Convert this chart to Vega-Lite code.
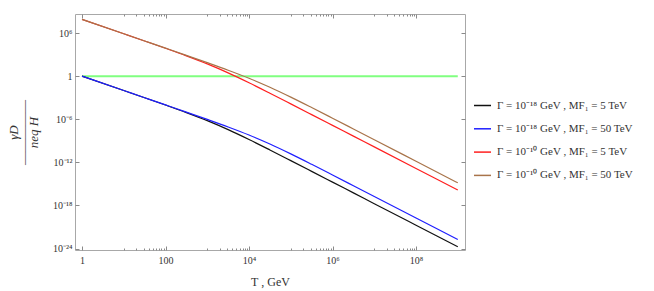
{
  "$schema": "https://vega.github.io/schema/vega-lite/v6.json",
  "width": 390,
  "height": 236,
  "autosize": "none",
  "padding": {"left": 75, "top": 14, "right": 189, "bottom": 41},
  "background": "white",
  "config": {
    "font": "Liberation Serif",
    "view": {"stroke": "#a8a8a8", "strokeWidth": 1},
    "axis": {
      "domain": false,
      "grid": false,
      "tickColor": "#8a8a8a",
      "tickWidth": 1,
      "labelFont": "Liberation Serif",
      "labelFontSize": 10,
      "labelColor": "#333333",
      "titleFont": "Liberation Serif",
      "titleFontWeight": "normal",
      "titleColor": "#333333"
    },
    "legend": {
      "labelFont": "Liberation Serif",
      "labelFontSize": 11,
      "labelColor": "#333333",
      "padding": 0,
      "labelLimit": 200
    }
  },
  "datasets": {
    "unity": [
      {"T": 1, "y": 1},
      {"T": 1000000000, "y": 1}
    ],
    "curves": [
      {"T": 1, "y": 1, "series": "Γ = 10⁻¹⁸  GeV ,  MF₁ = 5  TeV"},
      {"T": 10, "y": 9.944e-3, "series": "Γ = 10⁻¹⁸  GeV ,  MF₁ = 5  TeV"},
      {"T": 31.62, "y": 9.825e-4, "series": "Γ = 10⁻¹⁸  GeV ,  MF₁ = 5  TeV"},
      {"T": 100, "y": 9.468e-5, "series": "Γ = 10⁻¹⁸  GeV ,  MF₁ = 5  TeV"},
      {"T": 316.2, "y": 8.490e-6, "series": "Γ = 10⁻¹⁸  GeV ,  MF₁ = 5  TeV"},
      {"T": 1000, "y": 6.401e-7, "series": "Γ = 10⁻¹⁸  GeV ,  MF₁ = 5  TeV"},
      {"T": 3162, "y": 3.599e-8, "series": "Γ = 10⁻¹⁸  GeV ,  MF₁ = 5  TeV"},
      {"T": 10000, "y": 1.510e-9, "series": "Γ = 10⁻¹⁸  GeV ,  MF₁ = 5  TeV"},
      {"T": 31623, "y": 5.323e-11, "series": "Γ = 10⁻¹⁸  GeV ,  MF₁ = 5  TeV"},
      {"T": 100000, "y": 1.747e-12, "series": "Γ = 10⁻¹⁸  GeV ,  MF₁ = 5  TeV"},
      {"T": 316228, "y": 5.591e-14, "series": "Γ = 10⁻¹⁸  GeV ,  MF₁ = 5  TeV"},
      {"T": 1000000, "y": 1.776e-15, "series": "Γ = 10⁻¹⁸  GeV ,  MF₁ = 5  TeV"},
      {"T": 3162278, "y": 5.620e-17, "series": "Γ = 10⁻¹⁸  GeV ,  MF₁ = 5  TeV"},
      {"T": 10000000, "y": 1.778e-18, "series": "Γ = 10⁻¹⁸  GeV ,  MF₁ = 5  TeV"},
      {"T": 100000000, "y": 1.778e-21, "series": "Γ = 10⁻¹⁸  GeV ,  MF₁ = 5  TeV"},
      {"T": 1000000000, "y": 1.778e-24, "series": "Γ = 10⁻¹⁸  GeV ,  MF₁ = 5  TeV"},

      {"T": 1, "y": 1, "series": "Γ = 10⁻¹⁸  GeV ,  MF₁ = 50  TeV"},
      {"T": 10, "y": 9.994e-3, "series": "Γ = 10⁻¹⁸  GeV ,  MF₁ = 50  TeV"},
      {"T": 31.62, "y": 9.982e-4, "series": "Γ = 10⁻¹⁸  GeV ,  MF₁ = 50  TeV"},
      {"T": 100, "y": 9.944e-5, "series": "Γ = 10⁻¹⁸  GeV ,  MF₁ = 50  TeV"},
      {"T": 316.2, "y": 9.825e-6, "series": "Γ = 10⁻¹⁸  GeV ,  MF₁ = 50  TeV"},
      {"T": 1000, "y": 9.468e-7, "series": "Γ = 10⁻¹⁸  GeV ,  MF₁ = 50  TeV"},
      {"T": 3162, "y": 8.490e-8, "series": "Γ = 10⁻¹⁸  GeV ,  MF₁ = 50  TeV"},
      {"T": 10000, "y": 6.401e-9, "series": "Γ = 10⁻¹⁸  GeV ,  MF₁ = 50  TeV"},
      {"T": 31623, "y": 3.599e-10, "series": "Γ = 10⁻¹⁸  GeV ,  MF₁ = 50  TeV"},
      {"T": 100000, "y": 1.510e-11, "series": "Γ = 10⁻¹⁸  GeV ,  MF₁ = 50  TeV"},
      {"T": 316228, "y": 5.323e-13, "series": "Γ = 10⁻¹⁸  GeV ,  MF₁ = 50  TeV"},
      {"T": 1000000, "y": 1.747e-14, "series": "Γ = 10⁻¹⁸  GeV ,  MF₁ = 50  TeV"},
      {"T": 3162278, "y": 5.591e-16, "series": "Γ = 10⁻¹⁸  GeV ,  MF₁ = 50  TeV"},
      {"T": 10000000, "y": 1.776e-17, "series": "Γ = 10⁻¹⁸  GeV ,  MF₁ = 50  TeV"},
      {"T": 100000000, "y": 1.778e-20, "series": "Γ = 10⁻¹⁸  GeV ,  MF₁ = 50  TeV"},
      {"T": 1000000000, "y": 1.778e-23, "series": "Γ = 10⁻¹⁸  GeV ,  MF₁ = 50  TeV"},

      {"T": 1, "y": 7.940e7, "series": "Γ = 10⁻¹⁰  GeV ,  MF₁ = 5  TeV"},
      {"T": 10, "y": 7.899e5, "series": "Γ = 10⁻¹⁰  GeV ,  MF₁ = 5  TeV"},
      {"T": 31.62, "y": 7.804e4, "series": "Γ = 10⁻¹⁰  GeV ,  MF₁ = 5  TeV"},
      {"T": 100, "y": 7521, "series": "Γ = 10⁻¹⁰  GeV ,  MF₁ = 5  TeV"},
      {"T": 316.2, "y": 674.4, "series": "Γ = 10⁻¹⁰  GeV ,  MF₁ = 5  TeV"},
      {"T": 1000, "y": 50.85, "series": "Γ = 10⁻¹⁰  GeV ,  MF₁ = 5  TeV"},
      {"T": 3162, "y": 2.859, "series": "Γ = 10⁻¹⁰  GeV ,  MF₁ = 5  TeV"},
      {"T": 10000, "y": 0.1199, "series": "Γ = 10⁻¹⁰  GeV ,  MF₁ = 5  TeV"},
      {"T": 31623, "y": 4.228e-3, "series": "Γ = 10⁻¹⁰  GeV ,  MF₁ = 5  TeV"},
      {"T": 100000, "y": 1.388e-4, "series": "Γ = 10⁻¹⁰  GeV ,  MF₁ = 5  TeV"},
      {"T": 316228, "y": 4.441e-6, "series": "Γ = 10⁻¹⁰  GeV ,  MF₁ = 5  TeV"},
      {"T": 1000000, "y": 1.411e-7, "series": "Γ = 10⁻¹⁰  GeV ,  MF₁ = 5  TeV"},
      {"T": 3162278, "y": 4.464e-9, "series": "Γ = 10⁻¹⁰  GeV ,  MF₁ = 5  TeV"},
      {"T": 10000000, "y": 1.412e-10, "series": "Γ = 10⁻¹⁰  GeV ,  MF₁ = 5  TeV"},
      {"T": 100000000, "y": 1.413e-13, "series": "Γ = 10⁻¹⁰  GeV ,  MF₁ = 5  TeV"},
      {"T": 1000000000, "y": 1.413e-16, "series": "Γ = 10⁻¹⁰  GeV ,  MF₁ = 5  TeV"},

      {"T": 1, "y": 7.943e7, "series": "Γ = 10⁻¹⁰  GeV ,  MF₁ = 50  TeV"},
      {"T": 10, "y": 7.939e5, "series": "Γ = 10⁻¹⁰  GeV ,  MF₁ = 50  TeV"},
      {"T": 31.62, "y": 7.929e4, "series": "Γ = 10⁻¹⁰  GeV ,  MF₁ = 50  TeV"},
      {"T": 100, "y": 7899, "series": "Γ = 10⁻¹⁰  GeV ,  MF₁ = 50  TeV"},
      {"T": 316.2, "y": 780.4, "series": "Γ = 10⁻¹⁰  GeV ,  MF₁ = 50  TeV"},
      {"T": 1000, "y": 75.21, "series": "Γ = 10⁻¹⁰  GeV ,  MF₁ = 50  TeV"},
      {"T": 3162, "y": 6.744, "series": "Γ = 10⁻¹⁰  GeV ,  MF₁ = 50  TeV"},
      {"T": 10000, "y": 0.5085, "series": "Γ = 10⁻¹⁰  GeV ,  MF₁ = 50  TeV"},
      {"T": 31623, "y": 0.02859, "series": "Γ = 10⁻¹⁰  GeV ,  MF₁ = 50  TeV"},
      {"T": 100000, "y": 1.199e-3, "series": "Γ = 10⁻¹⁰  GeV ,  MF₁ = 50  TeV"},
      {"T": 316228, "y": 4.228e-5, "series": "Γ = 10⁻¹⁰  GeV ,  MF₁ = 50  TeV"},
      {"T": 1000000, "y": 1.388e-6, "series": "Γ = 10⁻¹⁰  GeV ,  MF₁ = 50  TeV"},
      {"T": 3162278, "y": 4.441e-8, "series": "Γ = 10⁻¹⁰  GeV ,  MF₁ = 50  TeV"},
      {"T": 10000000, "y": 1.411e-9, "series": "Γ = 10⁻¹⁰  GeV ,  MF₁ = 50  TeV"},
      {"T": 100000000, "y": 1.412e-12, "series": "Γ = 10⁻¹⁰  GeV ,  MF₁ = 50  TeV"},
      {"T": 1000000000, "y": 1.412e-15, "series": "Γ = 10⁻¹⁰  GeV ,  MF₁ = 50  TeV"}
    ]
  },
  "resolve": {"axis": {"x": "independent", "y": "independent"}},
  "layer": [
    {
      "data": {"name": "unity"},
      "mark": {"type": "line", "color": "#80ff80", "strokeWidth": 2},
      "encoding": {
        "x": {
          "field": "T", "type": "quantitative",
          "scale": {"type": "log", "domain": [0.679, 1.489e9], "nice": false},
          "axis": {
            "orient": "bottom",
            "values": [1, 100, 10000, 1000000, 100000000],
            "tickSize": -4,
            "labelPadding": 9,
            "labelExpr": "round(log(datum.value)/LN10) == 0 ? '1' : round(log(datum.value)/LN10) == 2 ? '100' : round(log(datum.value)/LN10) == 4 ? '10⁴' : round(log(datum.value)/LN10) == 6 ? '10⁶' : '10⁸'",
            "title": "T , GeV",
            "titleFontSize": 12,
            "titlePadding": 11
          }
        },
        "y": {
          "field": "y", "type": "quantitative",
          "scale": {"type": "log", "domain": [6.3e-25, 4.47e8], "nice": false},
          "axis": {
            "orient": "left",
            "values": [1e-24, 1e-18, 1e-12, 1e-6, 1, 1000000],
            "tickSize": -4,
            "labelPadding": 7,
            "labelExpr": "round(log(datum.value)/LN10) == 6 ? '10⁶' : round(log(datum.value)/LN10) == 0 ? '1' : round(log(datum.value)/LN10) == -6 ? '10⁻⁶' : round(log(datum.value)/LN10) == -12 ? '10⁻¹²' : round(log(datum.value)/LN10) == -18 ? '10⁻¹⁸' : '10⁻²⁴'",
            "title": ["γD", "―――――", "neq  H"],
            "titleFontSize": 13,
            "titleFontStyle": "italic",
            "titleLineHeight": 10,
            "titlePadding": 12
          }
        }
      }
    },
    {
      "data": {"name": "curves"},
      "mark": {"type": "line", "strokeWidth": 1.2, "interpolate": "monotone"},
      "encoding": {
        "x": {
          "field": "T", "type": "quantitative",
          "axis": {"orient": "top", "values": [1, 100, 10000, 1000000, 100000000], "tickSize": -4, "labels": false, "title": null}
        },
        "y": {
          "field": "y", "type": "quantitative",
          "axis": {"orient": "right", "values": [1e-24, 1e-18, 1e-12, 1e-6, 1, 1000000], "tickSize": -4, "labels": false, "title": null}
        },
        "color": {
          "field": "series", "type": "nominal",
          "scale": {
            "domain": ["Γ = 10⁻¹⁸  GeV ,  MF₁ = 5  TeV", "Γ = 10⁻¹⁸  GeV ,  MF₁ = 50  TeV", "Γ = 10⁻¹⁰  GeV ,  MF₁ = 5  TeV", "Γ = 10⁻¹⁰  GeV ,  MF₁ = 50  TeV"],
            "range": ["#111111", "#1f1fff", "#ff1f1f", "#a8744a"]
          },
          "legend": {
            "title": null,
            "orient": "none",
            "legendX": 398,
            "legendY": 82,
            "symbolType": "stroke",
            "symbolSize": 289,
            "symbolStrokeWidth": 1.5,
            "rowPadding": 8.3,
            "labelOffset": 5
          }
        }
      }
    },
    {
      "data": {"name": "unity"},
      "mark": {"type": "line", "strokeOpacity": 0},
      "encoding": {
        "x": {
          "field": "T", "type": "quantitative",
          "axis": {"orient": "bottom", "values": [10, 20, 30, 40, 50, 60, 70, 80, 90, 1000, 2000, 3000, 4000, 5000, 6000, 7000, 8000, 9000, 100000, 200000, 300000, 400000, 500000, 600000, 700000, 800000, 900000, 10000000, 20000000, 30000000, 40000000, 50000000, 60000000, 70000000, 80000000, 90000000], "tickSize": -2, "labels": false, "title": null}
        },
        "y": {"field": "y", "type": "quantitative", "axis": null}
      }
    },
    {
      "data": {"name": "unity"},
      "mark": {"type": "line", "strokeOpacity": 0},
      "encoding": {
        "x": {
          "field": "T", "type": "quantitative",
          "axis": {"orient": "top", "values": [10, 20, 30, 40, 50, 60, 70, 80, 90, 1000, 2000, 3000, 4000, 5000, 6000, 7000, 8000, 9000, 100000, 200000, 300000, 400000, 500000, 600000, 700000, 800000, 900000, 10000000, 20000000, 30000000, 40000000, 50000000, 60000000, 70000000, 80000000, 90000000], "tickSize": -2, "labels": false, "title": null}
        },
        "y": {"field": "y", "type": "quantitative", "axis": null}
      }
    }
  ]
}
